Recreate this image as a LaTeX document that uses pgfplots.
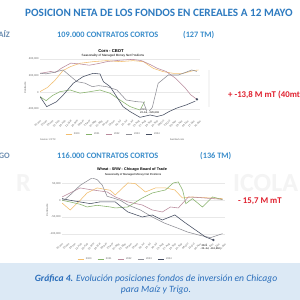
\documentclass[border=0pt]{standalone}
\usepackage{pgfplots}
\pgfplotsset{compat=1.18}
\usepackage{fontspec}
\setmainfont{Carlito}
\newfontfamily\chartfont{Liberation Sans}
\definecolor{titleblue}{HTML}{2E7BC0}
\definecolor{subblue}{HTML}{3A8DCB}
\definecolor{sideblue}{HTML}{6A8CB0}
\definecolor{redtxt}{HTML}{E0202E}
\definecolor{capbg}{HTML}{DCE9F5}
\definecolor{captxt}{HTML}{2A6EBB}
\definecolor{sA}{HTML}{F2BE6E}
\definecolor{sB}{HTML}{86B26A}
\definecolor{sC}{HTML}{B98A9C}
\definecolor{sD}{HTML}{8E8E96}
\definecolor{sE}{HTML}{444C60}
\pgfplotsset{
 slide/.style={
  scale only axis,
  axis line style={draw=none},
  tick style={draw=none},
  ymajorgrids,
  major grid style={gray!18, line width=0.3pt},
  extra y ticks={0}, extra y tick labels={},
  extra y tick style={grid style={gray!55, line width=0.45pt}},
  xmin=0, xmax=52,
  xtick={0,2,...,52},
  xticklabels={01-Jan,15-Jan,29-Jan,12-Feb,26-Feb,12-Mar,26-Mar,09-Apr,23-Apr,07-May,21-May,04-Jun,18-Jun,02-Jul,16-Jul,30-Jul,13-Aug,27-Aug,10-Sep,24-Sep,08-Oct,22-Oct,05-Nov,19-Nov,03-Dec,17-Dec,31-Dec},
  xticklabel style={rotate=45, anchor=north east, font=\chartfont\fontsize{2.6}{3}\selectfont, text=gray!75!black, inner sep=0.5pt},
  yticklabel style={font=\chartfont\fontsize{2.7}{3}\selectfont, text=gray!75!black, inner sep=1.2pt},
  ylabel={Contracts},
  ylabel style={font=\chartfont\fontsize{2.7}{3}\selectfont, text=gray!75!black, inner sep=0.5pt},
  every axis plot/.append style={line width=0.55pt, no markers},
  legend columns=5,
  legend style={draw=none, fill=none, font=\chartfont\fontsize{2.5}{3}\selectfont, text=gray!75!black,
    /tikz/every even column/.append style={column sep=4pt}, inner sep=0pt},
  legend image code/.code={\draw[#1, line width=0.5pt] (0pt,0pt) -- (6pt,0pt);},
  /pgf/number format/assume math mode=true,
 }
}
\begin{document}
\begin{tikzpicture}[x=1pt,y=1pt]
\useasboundingbox (0,0) rectangle (300,-300);
\clip (0,0) rectangle (300,-300);
\fill[white] (0,0) rectangle (300,-300);
% watermark
\node[anchor=base west, inner sep=0, font=\fontsize{26}{26}\selectfont\bfseries, text=gray!9] at (16,-191) {R};
\node[anchor=base west, inner sep=0, font=\fontsize{26}{26}\selectfont\bfseries, text=gray!9] at (233,-191) {ICOLA};
\fill[gray!8] (208,-70) rectangle (210,-107);
% headings
\node[anchor=base west, inner sep=0, font=\fontsize{11.2}{13}\selectfont\bfseries, text=titleblue] at (25,-16) {POSICION NETA DE LOS FONDOS EN CEREALES A 12 MAYO};
\node[anchor=base east, inner sep=0, font=\fontsize{8.3}{9}\selectfont\bfseries, text=sideblue] at (10,-37.8) {MAÍZ};
\node[anchor=base west, inner sep=0, font=\fontsize{8.3}{9}\selectfont\bfseries, text=subblue] at (57,-37.8) {109.000 CONTRATOS CORTOS};
\node[anchor=base west, inner sep=0, font=\fontsize{8.3}{9}\selectfont\bfseries, text=subblue] at (183,-37.8) {(127 TM)};
\node[anchor=base east, inner sep=0, font=\fontsize{8.3}{9}\selectfont\bfseries, text=sideblue] at (10,-158.8) {TRIGO};
\node[anchor=base west, inner sep=0, font=\fontsize{8.3}{9}\selectfont\bfseries, text=subblue] at (57,-158.8) {116.000 CONTRATOS CORTOS};
\node[anchor=base west, inner sep=0, font=\fontsize{8.3}{9}\selectfont\bfseries, text=subblue] at (200,-158.8) {(136 TM)};
\node[anchor=base west, inner sep=0, font=\fontsize{8.8}{9}\selectfont\bfseries, text=redtxt] at (228,-97.8) {+ -13,8 M mT (40mt)};
\node[anchor=base west, inner sep=0, font=\fontsize{8.8}{9}\selectfont\bfseries, text=redtxt] at (238,-203.8) {- 15,7 M mT};
% chart titles
\node[inner sep=0, font=\chartfont\bfseries\fontsize{4.2}{5}\selectfont] at (111,-50.7) {Corn - CBOT};
\node[inner sep=0, font=\chartfont\fontsize{3.1}{4}\selectfont] at (113,-55.6) {Seasonality of Managed Money Net Positions};
\node[inner sep=0, font=\chartfont\bfseries\fontsize{3.8}{5}\selectfont] at (132,-169.3) {Wheat - SRW - Chicago Board of Trade};
\node[inner sep=0, font=\chartfont\fontsize{2.8}{4}\selectfont] at (133,-174.3) {Seasonality of Managed Money Net Positions};
% corn chart
\begin{axis}[slide, at={(40pt,-57.3pt)}, anchor=north west, width=160pt, height=61.7pt,
  ymin=-320, ymax=420, ytick={-200,0,200,400},
  yticklabels={{-200,000},{0},{200,000},{400,000}},
  legend style={at={(axis description cs:0.46,-0.245)}, anchor=center}]
\addplot[sA] coordinates {(0,8)(2.5,60)(5,150)(7.5,262)(10,310)(13,348)(17.3,368)(21.7,380)(26,368)(30.3,380)(33.6,368)(36.8,288)(40,248)(43.3,228)(46.6,228)(49.8,260)(51.5,268)};
\addplot[sB] coordinates {(0,-52)(2,-100)(4,-40)(6.5,8)(9.8,28)(13,-10)(16.3,8)(19.5,28)(22.8,-12)(26,-92)(29.3,-172)(32.5,-212)(34,-112)};
\addplot[sC] coordinates {(0,228)(2,240)(3.5,250)(5,238)(7,290)(10,350)(13,340)(16,325)(19,345)(22,370)(26,385)(30,395)(33,380)(36,330)(38,290)(41,250)(44,170)(47,60)(49,-30)(51,-84)};
\addplot[sD] coordinates {(0,228)(2,222)(4,235)(7.5,268)(10,190)(12,128)(14.6,110)(17,68)(19,80)(21.7,68)(25,28)(28,-92)(31.4,-112)(33.6,-118)(35,-250)(36.5,-180)(38.4,108)(41.7,208)(45,208)(47,235)(49.3,268)(51,250)};
\addplot[sE] coordinates {(0,-52)(2.2,-172)(5.4,-112)(7.6,-30)(10.8,108)(14,188)(17.3,228)(19.5,220)(20.6,128)(22.8,68)(24.9,-52)(27,-172)(29.3,-232)(32.5,-300)(35.8,-272)(38,-290)(40,-272)(42,-230)(44.4,-190)(47.6,-150)(50.5,-105)};
\legend{2020,2021,2022,2023,2024}
\addplot[only marks, mark=*, mark size=0.9pt, sE, forget plot] coordinates {(51,-84)};
\end{axis}
\node[anchor=west, inner sep=0, font=\chartfont\fontsize{2.6}{3}\selectfont, fill=white] at (140,-109.3) {2024};
\node[anchor=west, inner sep=0, font=\chartfont\fontsize{2.6}{3}\selectfont, fill=white] at (140,-112.6) {22-Jul, -229,606};
\node[anchor=west, inner sep=0, font=\chartfont\fontsize{2.4}{3}\selectfont, text=gray!70!black] at (40,-139.5) {Source: CFTC};
\node[anchor=west, inner sep=0, font=\chartfont\fontsize{2.4}{3}\selectfont, text=gray!70!black] at (170,-139.5) {barchart.com};
% wheat chart
\begin{axis}[slide, at={(62pt,-178.6pt)}, anchor=north west, width=163pt, height=63.4pt,
  ymin=-125, ymax=65, ytick={-100,-50,0,50},
  yticklabels={{-100,000},{-50,000},{0},{50,000}},
  legend style={at={(axis description cs:0.39,-0.27)}, anchor=center}]
\addplot[sA] coordinates {(0,-8)(2.6,-29)(5.8,0)(8,22)(11.2,37)(15.4,30)(17,16)(21,52)(23.4,50)(26.6,25)(29.8,37)(33,37)(36,31)(38.4,7)(41.6,10)(44.8,8)(48,7)(51.2,5)};
\addplot[sB] coordinates {(0,0)(2.6,-5)(5.8,-12)(8,-20)(11.2,-15)(15.4,-20)(17,-23)(21,-20)(25.6,7)(28.8,22)(33,31)(35.5,52)(37.1,55)(38.5,30)(39.5,-10)(41.6,5)(44.8,-20)(48,10)(51.2,2)};
\addplot[sC] coordinates {(0,10)(2.6,22)(5.8,37)(9,32)(14.4,25)(17,10)(21,-5)(25.6,-14)(28.8,-29)(32,-35)(34.6,-20)(37.1,-23)(40.3,10)(44,8)(48,5)(51.2,3)};
\addplot[sD] coordinates {(0,5)(0.6,0)(2.6,16)(5.8,45)(9.6,67)(11.2,62)(12.8,46)(14.4,12)(16.3,7)(18.6,0)(21,-14)(25,-29)(28.8,-50)(32.6,-68)(36.8,-83)(40,-95)(44,-105)(47.4,-112)(51.2,-100)};
\addplot[sE] coordinates {(0,5)(2.6,0)(5.8,-5)(9,-10)(12,-5)(17,-5)(21,-35)(25.6,-50)(28.8,-44)(32,-59)(36,-44)(39.4,-68)(42.6,-89)(45.8,-110)(48.3,-119)};
\legend{2020,2021,2022,2023,2024}
\addplot[only marks, mark=*, mark size=0.9pt, sE, forget plot] coordinates {(48.3,-119)};
\end{axis}
\node[anchor=west, inner sep=0.3pt, font=\chartfont\fontsize{2.6}{3}\selectfont, fill=white] at (201,-245.3) {2024};
\node[anchor=west, inner sep=0.3pt, font=\chartfont\fontsize{2.6}{3}\selectfont, fill=white] at (201,-248.6) {22-Jul, -116,660};
% caption
\fill[capbg] (0,-263) rectangle (300,-300);
\node[inner sep=0, font=\fontsize{9.6}{11}\selectfont\itshape, text=captxt] at (156,-278.5) {\textbf{Gráfica 4.} Evolución posiciones fondos de inversión en Chicago};
\node[inner sep=0, font=\fontsize{9.6}{11}\selectfont\itshape, text=captxt] at (156,-290.5) {para Maíz y Trigo.};
\end{tikzpicture}
\end{document}
